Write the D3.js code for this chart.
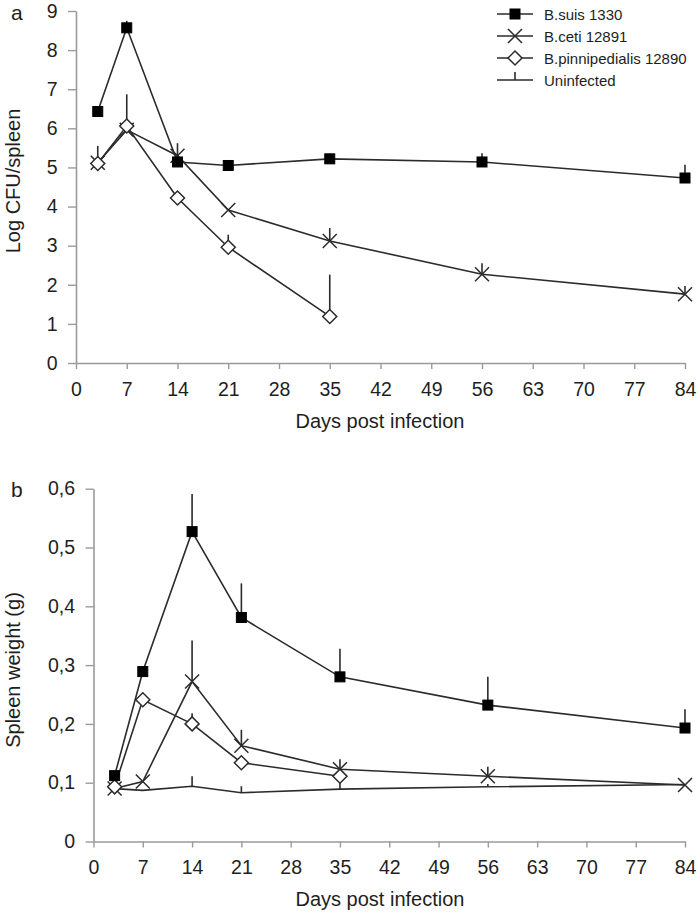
<!DOCTYPE html>
<html><head><meta charset="utf-8">
<script src="https://cdn.jsdelivr.net/npm/d3@7"></script>
<style>
html,body{margin:0;padding:0;background:#fff;}
svg{display:block;font-family:"Liberation Sans",Arial,sans-serif;}
</style></head>
<body><svg id="c" width="700" height="916"></svg>
<script>
// ---- data ----
const days = [3, 7, 14, 21, 35, 56, 84];
const pinnDays = [3, 7, 14, 21, 35];
const xTicks = [0, 7, 14, 21, 28, 35, 42, 49, 56, 63, 70, 77, 84];
const cfuTicks = [0, 1, 2, 3, 4, 5, 6, 7, 8, 9];
const weightTicks = [0, 0.1, 0.2, 0.3, 0.4, 0.5, 0.6];
const seriesNames = ["B.suis 1330", "B.ceti 12891", "B.pinnipedialis 12890", "Uninfected"];

// panel a: Log CFU/spleen (top of error bar = mean + SD)
const cfuSuis = [6.43, 8.57, 5.14, 5.05, 5.22, 5.14, 4.73];
const cfuSuisErr = [null, 8.75, null, null, 5.36, 5.36, 5.07];
const cfuCeti = [5.12, 5.96, 5.30, 3.91, 3.12, 2.27, 1.76];
const cfuCetiErr = [5.55, null, 5.62, null, 3.45, 2.55, 1.97];
const cfuPinn = [5.10, 6.06, 4.22, 2.96, 1.19];
const cfuPinnErr = [null, 6.87, null, 3.28, 2.26];

// panel b: spleen weight (g)
const wSuis = [0.112, 0.289, 0.527, 0.381, 0.280, 0.232, 0.193];
const wSuisErr = [null, null, 0.591, 0.439, 0.328, 0.280, 0.225];
const wCeti = [0.090, 0.102, 0.272, 0.163, 0.123, 0.111, 0.096];
const wCetiErr = [null, null, 0.342, 0.190, 0.140, 0.127, null];
const wPinn = [0.093, 0.241, 0.200, 0.134, 0.111];
const wPinnErr = [null, null, 0.218, null, null];
const wUninf = [0.090, 0.087, 0.094, 0.083, 0.089, 0.093, 0.097];
const wUninfErr = [null, null, 0.111, 0.094, 0.110, 0.098, null];

// ---- drawing ----
const svg = d3.select("#c");
const LINE = "#2b2b2b", AXIS = "#9a9a9a", TXT = "#1e1e1e";

function mk(xs, ys, es) { return xs.map((d, i) => ({x: d, y: ys[i], e: es ? es[i] : null})); }

function drawMarker(g, type, cx, cy) {
  if (type === "square") {
    g.append("rect").attr("x", cx - 5).attr("y", cy - 5).attr("width", 10).attr("height", 10)
      .attr("fill", "#000").attr("stroke", "#000").attr("stroke-width", 1);
  } else if (type === "x") {
    const s = 7;
    g.append("path").attr("d", `M${cx - s},${cy - s}L${cx + s},${cy + s}M${cx - s},${cy + s}L${cx + s},${cy - s}`)
      .attr("stroke", LINE).attr("stroke-width", 1.5).attr("fill", "none");
  } else if (type === "diamond") {
    const s = 7;
    g.append("path").attr("d", `M${cx},${cy - s}L${cx + s},${cy}L${cx},${cy + s}L${cx - s},${cy}Z`)
      .attr("stroke", LINE).attr("stroke-width", 1.5).attr("fill", "#fff");
  }
}

function panel(opt) {
  const g = svg.append("g");
  const x = d3.scaleLinear().domain([0, 84]).range([opt.x0, opt.x1]);
  const y = d3.scaleLinear().domain(opt.ydom).range([opt.y0, opt.y1]);

  const xa = g.append("g").attr("transform", `translate(0,${opt.y0})`)
    .call(d3.axisBottom(x).tickValues(xTicks).tickSize(6).tickPadding(13).tickSizeOuter(0));
  const ya = g.append("g").attr("transform", `translate(${opt.x0},0)`)
    .call(d3.axisLeft(y).tickValues(opt.yticks).tickSize(8).tickPadding(10.5).tickSizeOuter(0)
      .tickFormat(opt.fmt));
  [xa, ya].forEach(a => {
    a.select(".domain").attr("stroke", AXIS).attr("stroke-width", 1.6);
    a.selectAll(".tick line").attr("stroke", AXIS).attr("stroke-width", 1.4);
    a.selectAll(".tick text").attr("fill", TXT).style("font-size", "19.5px");
  });

  // titles
  g.append("text").attr("x", 380).attr("y", opt.xtY).attr("text-anchor", "middle")
    .attr("fill", TXT).style("font-size", "20px").text("Days post infection");
  g.append("text").attr("transform", `translate(20,${opt.ytCy}) rotate(-90)`).attr("text-anchor", "middle")
    .attr("fill", TXT).style("font-size", "20px").text(opt.ytitle);
  g.append("text").attr("x", 11).attr("y", opt.letterY).attr("fill", TXT)
    .style("font-size", "21px").text(opt.letter);

  const line = d3.line().x(d => x(d.x)).y(d => y(d.y));
  opt.series.forEach(s => {
    const sg = g.append("g");
    // error bars (upper only)
    s.data.forEach(d => {
      if (d.e != null) sg.append("line").attr("x1", x(d.x)).attr("x2", x(d.x))
        .attr("y1", y(d.y)).attr("y2", y(d.e)).attr("stroke", LINE).attr("stroke-width", 1.6);
    });
    sg.append("path").datum(s.data).attr("d", line).attr("fill", "none")
      .attr("stroke", LINE).attr("stroke-width", 1.6);
  });
  opt.series.forEach(s => {
    if (s.marker) s.data.forEach(d => drawMarker(g, s.marker, x(d.x), y(d.y)));
  });
}

panel({
  x0: 76, x1: 685, y0: 363, y1: 11, ydom: [0, 9], yticks: cfuTicks, fmt: d3.format("d"),
  xtY: 428, ytCy: 181, ytitle: "Log CFU/spleen", letter: "a", letterY: 20,
  series: [
    {data: mk(days, cfuCeti, cfuCetiErr), marker: "x"},
    {data: mk(pinnDays, cfuPinn, cfuPinnErr), marker: "diamond"},
    {data: mk(days, cfuSuis, cfuSuisErr), marker: "square"}
  ]
});

panel({
  x0: 93.5, x1: 685, y0: 841.5, y1: 488.7, ydom: [0, 0.6], yticks: weightTicks,
  fmt: d => d === 0 ? "0" : d3.format(".1f")(d).replace(".", ","),
  xtY: 906, ytCy: 670, ytitle: "Spleen weight (g)", letter: "b", letterY: 497,
  series: [
    {data: mk(days, wUninf, wUninfErr), marker: null},
    {data: mk(days, wCeti, wCetiErr), marker: "x"},
    {data: mk(pinnDays, wPinn, wPinnErr), marker: "diamond"},
    {data: mk(days, wSuis, wSuisErr), marker: "square"}
  ]
});

// legend
const leg = svg.append("g");
const legMarkers = ["square", "x", "diamond", "tick"];
seriesNames.forEach((n, i) => {
  const cy = 14 + i * 22;
  leg.append("line").attr("x1", 497).attr("x2", 533).attr("y1", cy).attr("y2", cy)
    .attr("stroke", LINE).attr("stroke-width", 1.6);
  if (legMarkers[i] === "tick") {
    leg.append("line").attr("x1", 515).attr("x2", 515).attr("y1", cy).attr("y2", cy - 8)
      .attr("stroke", LINE).attr("stroke-width", 1.6);
  } else drawMarker(leg, legMarkers[i], 515, cy);
  leg.append("text").attr("x", 544).attr("y", cy + 5.5).attr("fill", TXT)
    .style("font-size", "15px").text(n);
});
</script></body></html>
